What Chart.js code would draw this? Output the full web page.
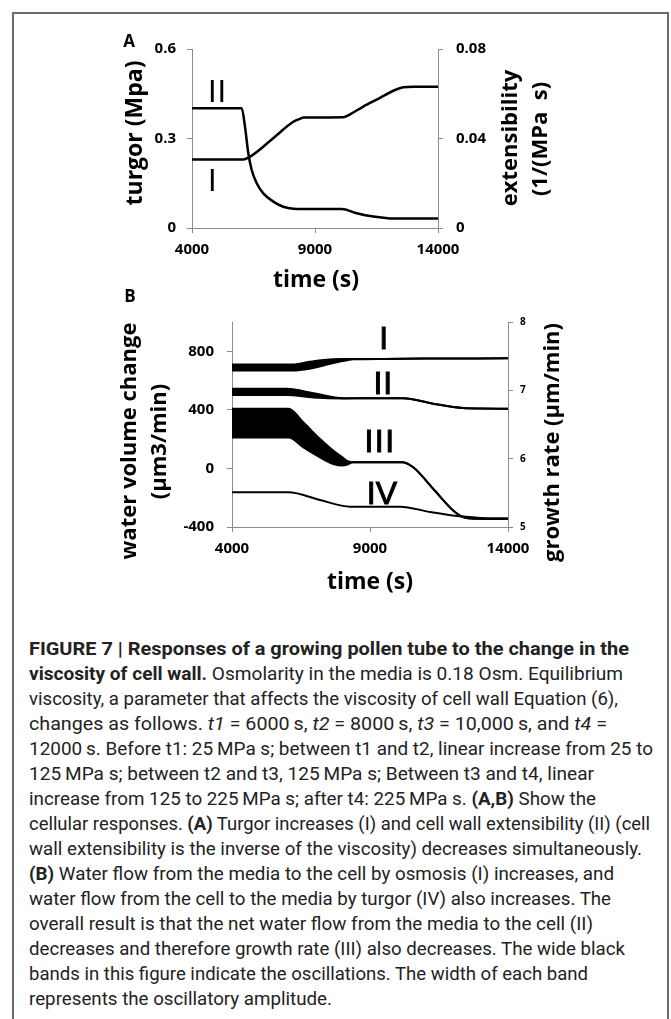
<!DOCTYPE html>
<html>
<head>
<meta charset="utf-8">
<script src="https://cdn.jsdelivr.net/npm/chart.js@4"></script>
<style>
  html, body { margin:0; padding:0; background:#fff; }
  body { width:671px; height:1019px; position:relative; overflow:hidden; }
  #frame { position:absolute; left:12px; top:12px; width:653px; height:1100px;
           border-left:2px solid #6a6a6a; border-top:2px solid #6a6a6a; border-right:2px solid #6a6a6a; }
  canvas { position:absolute; left:0; }
  #cA { top:0; }
  #cB { top:285px; }
  #caption { position:absolute; left:29px; top:637px; font-family:Roboto, sans-serif; font-size:18.5px; color:#222; }
  #caption .ln { height:25px; line-height:25px; white-space:nowrap; }
  #caption .ln span { display:inline-block; transform-origin:0 50%; }
</style>
</head>
<body>
<div id="frame"></div>
<canvas id="cA" width="671" height="300"></canvas>
<canvas id="cB" width="671" height="325"></canvas>
<div id="caption">
  <div class="ln" data-r="629"><span><b>FIGURE 7 | Responses of a growing pollen tube to the change in the</b></span></div>
  <div class="ln" data-r="623"><span><b>viscosity of cell wall.</b> Osmolarity in the media is 0.18 Osm. Equilibrium</span></div>
  <div class="ln" data-r="618"><span>viscosity, a parameter that affects the viscosity of cell wall Equation (6),</span></div>
  <div class="ln" data-r="607"><span>changes as follows. <i>t1</i> = 6000&#8201;s, <i>t2</i> = 8000&#8201;s, <i>t3</i> = 10,000&#8201;s, and <i>t4</i> =</span></div>
  <div class="ln" data-r="653"><span>12000&#8201;s. Before t1: 25&#8201;MPa s; between t1 and t2, linear increase from 25 to</span></div>
  <div class="ln" data-r="594"><span>125&#8201;MPa s; between t2 and t3, 125&#8201;MPa s; Between t3 and t4, linear</span></div>
  <div class="ln" data-r="596"><span>increase from 125 to 225&#8201;MPa s; after t4: 225&#8201;MPa s. <b>(A,B)</b> Show the</span></div>
  <div class="ln" data-r="650"><span>cellular responses. <b>(A)</b> Turgor increases (I) and cell wall extensibility (II) (cell</span></div>
  <div class="ln" data-r="642"><span>wall extensibility is the inverse of the viscosity) decreases simultaneously.</span></div>
  <div class="ln" data-r="614"><span><b>(B)</b> Water flow from the media to the cell by osmosis (I) increases, and</span></div>
  <div class="ln" data-r="611"><span>water flow from the cell to the media by turgor (IV) also increases. The</span></div>
  <div class="ln" data-r="593"><span>overall result is that the net water flow from the media to the cell (II)</span></div>
  <div class="ln" data-r="625"><span>decreases and therefore growth rate (III) also decreases. The wide black</span></div>
  <div class="ln" data-r="588"><span>bands in this figure indicate the oscillations. The width of each band</span></div>
  <div class="ln" data-r="332"><span>represents the oscillatory amplitude.</span></div>
</div>
<script>
// ---------- DATA ----------
// Panel A
const xTicks = [4000, 9000, 14000];
const xTickLabels = ['4000', '9000', '14000'];
const aLeftTicks = [0, 0.3, 0.6];
const aLeftLabels = ['0', '0.3', '0.6'];
const aRightTicks = [0, 0.04, 0.08];
const aRightLabels = ['0', '0.04', '0.08'];

const aTimeI = [4000, 6086, 6358, 7300, 8118, 8390, 8525, 10150, 10423, 10963, 11643, 12183, 12589, 13000, 14000];
const aTurgor = [0.230, 0.230, 0.239, 0.301, 0.356, 0.366, 0.370, 0.371, 0.381, 0.407, 0.436, 0.460, 0.4716, 0.4736, 0.4736];

const aTimeII = [4000, 6020, 6154, 6289, 6427, 6630, 6898, 7305, 7711, 8118, 8500, 10085, 10695, 11370, 12049, 12500, 14000];
const aExtensibility = [0.0535, 0.0535, 0.0453, 0.0334, 0.0259, 0.0200, 0.0155, 0.0118, 0.0095, 0.0086, 0.0085, 0.0085, 0.0066, 0.0051, 0.0043, 0.0042, 0.0042];

// Panel B
const bLeftTicks = [-400, 0, 400, 800];
const bLeftLabels = ['-400', '0', '400', '800'];
const bRightTicks = [5, 6, 7, 8];
const bRightLabels = ['5', '6', '7', '8'];

const bTimeI = [4000, 6200, 6800, 7312, 8000, 8400, 9500, 11000, 14000];
const bOsmosisUpper = [710, 710, 728, 741, 747, 747, 748, 750, 752];
const bOsmosisLower = [668, 668, 680, 703, 733, 745, 748, 750, 752];

const bTimeII = [4000, 6000, 6950, 8035, 9000, 10195, 11288, 12372, 13000, 14000];
const bNetUpper = [544, 544, 514, 480, 480, 480, 442, 412, 409, 408];
const bNetLower = [502, 502, 485, 478, 480, 480, 442, 412, 409, 408];

const bTimeIII = [4000, 6050, 6590, 7192, 7674, 8000, 8155, 8400, 9000, 10150, 10566, 11288, 12012, 12373, 12855, 14000];
const bGrowthUpper = [6.732, 6.732, 6.529, 6.287, 6.115, 6.021, 5.970, 5.946, 5.946, 5.946, 5.874, 5.559, 5.242, 5.146, 5.122, 5.118];
const bGrowthLower = [6.310, 6.310, 6.165, 6.019, 5.923, 5.899, 5.910, 5.946, 5.946, 5.946, 5.874, 5.559, 5.242, 5.146, 5.122, 5.118];

const bTimeIV = [4000, 6046, 7192, 8277, 10084, 11169, 12373, 13000, 14000];
const bTurgorFlow = [-163, -163, -216, -261, -261, -297, -329, -338, -340];

// ---------- HELPERS ----------
const pts = (t, v) => t.map((x, i) => ({x: x, y: v[i]}));
const setTicks = arr => (s => { s.ticks = arr.map(v => ({value: v})); });
const AXIS = '#8c8c8c';
const FAM = '"Open Sans", Lato, sans-serif';
const tickFont = {family: FAM, weight: 'bold', size: 15};

const textPlugin = {
  id: 'texts',
  afterDraw(chart, args, opts) {
    const ctx = chart.ctx;
    ctx.save();
    ctx.fillStyle = '#000';
    ctx.textAlign = 'center';
    ctx.textBaseline = 'middle';
    for (const t of (opts.titles || [])) {
      ctx.save();
      ctx.translate(t.x, t.y);
      if (t.rot) ctx.rotate(t.rot);
      ctx.font = t.font;
      ctx.fillText(t.text, 0, 0);
      ctx.restore();
    }
    for (const m of (opts.marks || [])) {
      const x = chart.scales.x.getPixelForValue(m.t);
      const y = chart.scales[m.axis].getPixelForValue(m.v);
      ctx.save();
      ctx.font = m.font;
      if ('letterSpacing' in ctx) ctx.letterSpacing = m.spacing || '0px';
      ctx.fillText(m.text, x, y);
      if (m.stroke) { ctx.lineWidth = m.stroke; ctx.strokeStyle = '#000'; ctx.strokeText(m.text, x, y); }
      ctx.restore();
    }
    ctx.restore();
  }
};

function xAxis(h) {
  return {
    type: 'linear', position: 'bottom', min: 4000, max: 14000,
    afterBuildTicks: setTicks(xTicks),
    ticks: {callback: (v, i) => xTickLabels[i], font: tickFont, color: '#000', padding: 8, maxRotation: 0, autoSkip: false},
    grid: {drawOnChartArea: false, drawTicks: true, tickLength: 5, color: AXIS},
    border: {color: AXIS, width: 1},
    afterFit: s => { s.height = h; }
  };
}
function yAxis(pos, min, max, ticks, labels, w, pad, font) {
  return {
    type: 'linear', position: pos, min: min, max: max,
    afterBuildTicks: setTicks(ticks),
    ticks: {callback: (v, i) => labels[i], font: font, color: '#000', padding: pad, autoSkip: false},
    grid: {drawOnChartArea: false, drawTicks: true, tickLength: 5, color: AXIS},
    border: {color: AXIS, width: 1},
    afterFit: s => { s.width = w; }
  };
}
const common = {
  responsive: false, animation: false, devicePixelRatio: 1,
  elements: {point: {radius: 0}, line: {cubicInterpolationMode: 'monotone', borderColor: '#000', borderCapStyle: 'round', borderJoinStyle: 'round'}},
};
const ROT = -Math.PI / 2;
const TF = 'bold 22px ' + FAM;

// ---------- CHART A ----------
new Chart(document.getElementById('cA'), {
  type: 'line',
  data: {datasets: [
    {label: 'turgor (I)', data: pts(aTimeI, aTurgor), yAxisID: 'y', borderWidth: 2.5, fill: false},
    {label: 'extensibility (II)', data: pts(aTimeII, aExtensibility), yAxisID: 'y1', borderWidth: 2.5, fill: false}
  ]},
  options: Object.assign({}, common, {
    layout: {padding: {top: 49, left: 0, right: 0, bottom: 0}},
    plugins: {
      legend: {display: false}, tooltip: {enabled: false},
      texts: {
        titles: [
          {text: 'A', x: 129, y: 42, font: 'bold 17px ' + FAM},
          {text: 'turgor (Mpa)', x: 135, y: 133, rot: ROT, font: 'bold 23px ' + FAM},
          {text: 'extensibility', x: 511, y: 138, rot: ROT, font: TF},
          {text: '(1/(MPa  s)', x: 541, y: 139, rot: ROT, font: TF},
          {text: 'time (s)', x: 316, y: 280, font: 'bold 23px ' + FAM}
        ],
        marks: [
          {text: 'II', t: 5037, v: 0.450, axis: 'y', font: '31px "Liberation Sans"', spacing: '1px'},
          {text: 'I', t: 4830, v: 0.152, axis: 'y', font: '31px "Liberation Sans"'}
        ]
      }
    },
    scales: {
      x: xAxis(72),
      y: yAxis('left', 0, 0.6, aLeftTicks, aLeftLabels, 192, 11, tickFont),
      y1: yAxis('right', 0, 0.08, aRightTicks, aRightLabels, 233, 13, tickFont)
    }
  }),
  plugins: [textPlugin]
});

// ---------- CHART B ----------
new Chart(document.getElementById('cB'), {
  type: 'line',
  data: {datasets: [
    {label: 'osmosis (I) upper', data: pts(bTimeI, bOsmosisUpper), yAxisID: 'y', borderWidth: 2, fill: false},
    {label: 'osmosis (I) lower', data: pts(bTimeI, bOsmosisLower), yAxisID: 'y', borderWidth: 2, fill: '-1', backgroundColor: '#000'},
    {label: 'net flow (II) upper', data: pts(bTimeII, bNetUpper), yAxisID: 'y', borderWidth: 2, fill: false},
    {label: 'net flow (II) lower', data: pts(bTimeII, bNetLower), yAxisID: 'y', borderWidth: 2, fill: '-1', backgroundColor: '#000'},
    {label: 'growth rate (III) upper', data: pts(bTimeIII, bGrowthUpper), yAxisID: 'y1', borderWidth: 2, fill: false},
    {label: 'growth rate (III) lower', data: pts(bTimeIII, bGrowthLower), yAxisID: 'y1', borderWidth: 2, fill: '-1', backgroundColor: '#000'},
    {label: 'turgor flow (IV)', data: pts(bTimeIV, bTurgorFlow), yAxisID: 'y', borderWidth: 2, fill: false}
  ]},
  options: Object.assign({}, common, {
    layout: {padding: {top: 37, left: 0, right: 0, bottom: 0}},
    plugins: {
      legend: {display: false}, tooltip: {enabled: false},
      texts: {
        titles: [
          {text: 'B', x: 130, y: 12.5, font: 'bold 17px ' + FAM},
          {text: 'water volume change', x: 130, y: 156, rot: ROT, font: TF},
          {text: '(\u00b5m3/min)', x: 160, y: 156.5, rot: ROT, font: TF},
          {text: 'growth rate (\u00b5m/min)', x: 552.5, y: 157.5, rot: ROT, font: TF},
          {text: 'time (s)', x: 370, y: 297, font: 'bold 23px ' + FAM}
        ],
        marks: [
          {text: 'I', t: 9495, v: 873, axis: 'y', font: '32px "Liberation Sans"', stroke: 1},
          {text: 'II', t: 9481, v: 569, axis: 'y', font: '32px "Liberation Sans"', stroke: 1, spacing: '1px'},
          {text: 'III', t: 9361, v: 175, axis: 'y', font: '32px "Liberation Sans"', stroke: 1, spacing: '1.5px'},
          {text: 'IV', t: 9433, v: -184, axis: 'y', font: '32px "Liberation Sans"', stroke: 1}
        ]
      }
    },
    scales: {
      x: xAxis(83),
      y: yAxis('left', -400, 1000, bLeftTicks, bLeftLabels, 232, 13, tickFont),
      y1: yAxis('right', 5, 8, bRightTicks, bRightLabels, 163, 7, {family: FAM, weight: 'bold', size: 10})
    }
  }),
  plugins: [textPlugin]
});

// ---------- CAPTION FIT ----------
function fitCaption() {
  const left = 29;
  document.querySelectorAll('#caption .ln').forEach(ln => {
    const sp = ln.firstElementChild;
    sp.style.transform = 'none';
    const w = sp.getBoundingClientRect().width;
    const target = parseFloat(ln.dataset.r) - left;
    if (w > 0) sp.style.transform = 'scaleX(' + (target / w) + ')';
  });
}
fitCaption();
if (document.fonts && document.fonts.ready) document.fonts.ready.then(fitCaption);
</script>
</body>
</html>
